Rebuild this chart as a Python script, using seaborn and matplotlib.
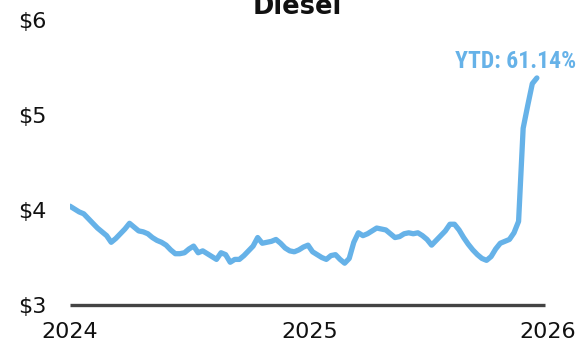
import matplotlib
matplotlib.use("Agg")
import matplotlib.pyplot as plt
from matplotlib import font_manager as fm
import pandas as pd
import seaborn as sns

# Weekly retail diesel price ($/gal), starting the first week of 2024
start_date = "2024-01-01"
prices = [
    4.04, 4.01, 3.98, 3.96, 3.91, 3.86, 3.81, 3.77, 3.73, 3.66,
    3.70, 3.75, 3.80, 3.86, 3.82, 3.78, 3.77, 3.75, 3.71, 3.68,
    3.66, 3.63, 3.58, 3.54, 3.54, 3.55, 3.59, 3.62, 3.55, 3.57,
    3.54, 3.51, 3.48, 3.55, 3.53, 3.45, 3.48, 3.48, 3.52, 3.57,
    3.62, 3.71, 3.65, 3.66, 3.67, 3.69, 3.65, 3.60, 3.57, 3.56,
    3.58, 3.61, 3.63, 3.56, 3.53, 3.50, 3.48, 3.52, 3.53, 3.48,
    3.44, 3.49, 3.66, 3.76, 3.73, 3.75, 3.78, 3.81, 3.80, 3.79,
    3.75, 3.71, 3.72, 3.75, 3.76, 3.75, 3.76, 3.73, 3.69, 3.63,
    3.68, 3.73, 3.78, 3.85, 3.85, 3.79, 3.71, 3.64, 3.58, 3.53,
    3.49, 3.47, 3.51, 3.59, 3.65, 3.67, 3.69, 3.76, 3.88, 4.86,
    5.10, 5.33, 5.39,
]
y_ticks = [3, 4, 5, 6]
y_tick_labels = ["$3", "$4", "$5", "$6"]
x_ticks = ["2024-01-01", "2025-01-01", "2026-01-01"]
x_tick_labels = ["2024", "2025", "2026"]
title = "Diesel"
ytd_label = "YTD: 61.14%"

df = pd.DataFrame({
    "date": pd.date_range(start_date, periods=len(prices), freq="7D"),
    "price": prices,
})

sns.set_theme(style="white")
plt.rcParams["font.family"] = ["DejaVu Sans"]

available = {f.name for f in fm.fontManager.ttflist}
cond_family = next(
    (f for f in ["Roboto Condensed", "Liberation Sans Narrow", "Roboto"] if f in available),
    "DejaVu Sans",
)

line_color = "#66b2e8"

fig = plt.figure(figsize=(5.78, 3.47), dpi=100)
W, H = 578, 347
ax = fig.add_axes([70 / W, 42 / H, (548 - 70) / W, (305 - 20) / H])

sns.lineplot(data=df, x="date", y="price", ax=ax, color=line_color,
             linewidth=3.8, solid_capstyle="round", solid_joinstyle="round",
             zorder=3)

# Baseline at $3
ax.plot([pd.Timestamp("2024-01-01"), pd.Timestamp("2025-12-28")], [3, 3],
        color="#444444", linewidth=2.4, solid_capstyle="butt", zorder=2,
        clip_on=False)

ax.set_xlim(pd.Timestamp("2024-01-01"), pd.Timestamp("2026-01-01"))
ax.set_ylim(3, 6)
ax.set_yticks(y_ticks)
ax.set_yticklabels(y_tick_labels)
ax.set_xticks([pd.Timestamp(t) for t in x_ticks])
ax.set_xticklabels(x_tick_labels)
ax.tick_params(axis="y", length=0, pad=17, labelsize=16, labelcolor="#111111")
ax.tick_params(axis="x", length=0, pad=12, labelsize=16, labelcolor="#111111")
ax.set_xlabel("")
ax.set_ylabel("")
ax.grid(False)
for s in ax.spines.values():
    s.set_visible(False)

# End-of-series annotation, right-aligned to the figure edge
fig.text(576 / W, 1 - 68 / H, ytd_label, ha="right", va="baseline",
         color=line_color, fontsize=17, fontweight="bold",
         family=[cond_family, "DejaVu Sans"])

fig.text(297 / W, 1 - 14 / H, title, ha="center", va="baseline",
         fontsize=18.5, fontweight="bold", color="#111111")

fig.savefig("out.png", dpi=100, facecolor="white")
